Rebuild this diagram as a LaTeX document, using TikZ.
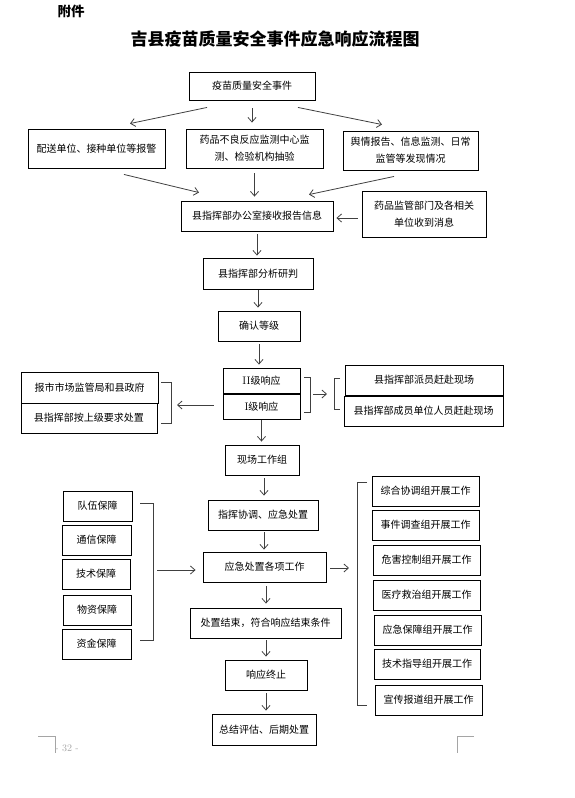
\documentclass[tikz,border=0pt]{standalone}
\usepackage{fontspec}
\newfontfamily\cjk{Noto Sans CJK SC}
\usepackage{tikz}
\usetikzlibrary{arrows.meta, calc}
\definecolor{linegray}{RGB}{64, 64, 64}
\definecolor{markgray}{RGB}{165, 165, 165}

\begin{document}
\begin{tikzpicture}[x=1pt, y=-1pt,
  flowbox/.style={draw=black, line width=0.9pt, inner sep=0pt, align=center, font=\cjk\fontsize{10}{17}\selectfont},
  flowarrow/.style={draw=linegray, line width=0.8pt, shorten <=3pt, shorten >=3pt, -{Straight Barb[length=4.5pt, width=8pt]}},
  bracketline/.style={draw=linegray, line width=0.8pt}]
  \useasboundingbox (0,0) rectangle (575,798);

  % Heading
  \node[font=\cjk\bfseries\fontsize{13.5}{14}\selectfont] (annex) at (71,11) {附件};
  \node[font=\cjk\bfseries\fontsize{17}{18}\selectfont] (title) at (275,39) {吉县疫苗质量安全事件应急响应流程图};

  % Reporting
  \node[flowbox, minimum width=126pt, minimum height=28pt] (event) at (252,86) {疫苗质量安全事件};
  \node[flowbox, minimum width=137pt, minimum height=39pt] (alarm) at (96.5,148.5) {配送单位、接种单位等报警};
  \node[flowbox, minimum width=137pt, minimum height=39pt] (monitor) at (254.5,148.5) {药品不良反应监测中心监\\测、检验机构抽验};
  \node[flowbox, minimum width=135pt, minimum height=39pt] (opinion) at (410.5,150.5) {舆情报告、信息监测、日常\\监管等发现情况};
  \node[flowbox, minimum width=152pt, minimum height=30pt] (office) at (257,216) {县指挥部办公室接收报告信息};
  \node[flowbox, minimum width=124pt, minimum height=46pt] (notice) at (424,214) {药品监管部门及各相关\\单位收到消息};

  \draw[flowarrow, shorten <=0pt, shorten >=0pt] ($(event.south)+(-45,7)$) -- ($(alarm.north)+(33.5,-5)$);
  \draw[flowarrow, shorten <=8pt, shorten >=6pt] (event.south) -- (event.south |- monitor.north);
  \draw[flowarrow, shorten <=0pt, shorten >=0pt] ($(event.south)+(46,7)$) -- ($(opinion.north)+(-28.5,-6)$);
  \draw[flowarrow, shorten <=0pt, shorten >=0pt] ($(alarm.south)+(27.5,6)$) -- ($(office.north)+(-58,-8)$);
  \draw[flowarrow, shorten <=5pt, shorten >=4pt] (monitor.south) -- (monitor.south |- office.north);
  \draw[flowarrow, shorten <=0pt, shorten >=0pt] ($(opinion.south)+(-16.5,6)$) -- ($(office.north)+(52,-6)$);
  \draw[flowarrow, shorten <=0pt, shorten >=0pt] ($(notice.west)+(-4,4)$) -- ($(office.east)+(3,2)$);

  % Judgement
  \node[flowbox, minimum width=110pt, minimum height=31pt] (analyse) at (258,273.5) {县指挥部分析研判};
  \node[flowbox, minimum width=82pt, minimum height=30pt] (grade) at (259,326) {确认等级};
  \node[flowbox, minimum width=77pt, minimum height=25pt] (lvtwo) at (261.5,380.5) {{\rmfamily\fontsize{11}{12}\selectfont II}级响应};
  \node[flowbox, minimum width=77pt, minimum height=25pt] (lvone) at (261.5,406.5) {{\rmfamily\fontsize{11}{12}\selectfont I}级响应};
  \node[flowbox, minimum width=158pt, minimum height=30pt] (dispatch) at (424,380) {县指挥部派员赶赴现场};
  \node[flowbox, minimum width=159pt, minimum height=30pt] (members) at (423.5,411) {县指挥部成员单位人员赶赴现场};
  \node[flowbox, minimum width=137pt, minimum height=31pt] (report) at (89.5,387.5) {报市市场监管局和县政府};
  \node[flowbox, minimum width=136pt, minimum height=30pt] (superior) at (89,418) {县指挥部按上级要求处置};

  \draw[flowarrow, shorten >=2pt] (office.south) -- (office.south |- analyse.north);
  \draw[flowarrow, shorten <=1pt] (analyse.south) -- (analyse.south |- grade.north);
  \draw[flowarrow] (grade.south) -- (grade.south |- lvtwo.north);

  \draw[bracketline] (304,377) -- (310,377) -- (310,412) -- (304,412);
  \draw[bracketline] (340,378) -- (334,378) -- (334,409) -- (340,409);
  \draw[bracketline] (161,382) -- (171,382) -- (171,423) -- (161,423);
  \coordinate (lvbr) at (313,394);
  \coordinate (sitebr) at (327,394);
  \coordinate (upbr) at (177,405);
  \draw[flowarrow, shorten <=0pt, shorten >=0pt] (lvbr) -- (sitebr);
  \draw[flowarrow, shorten <=0pt, shorten >=0pt] ($(lvone.west)+(-9,-1.5)$) -- (upbr);

  % Handling
  \node[flowbox, minimum width=74pt, minimum height=30pt] (scene) at (262,460) {现场工作组};
  \node[flowbox, minimum width=110pt, minimum height=30pt] (command) at (263,515) {指挥协调、应急处置};
  \node[flowbox, minimum width=123pt, minimum height=30pt] (tasks) at (264.5,567) {应急处置各项工作};
  \node[flowbox, minimum width=151pt, minimum height=30pt] (finish) at (265.5,623) {处置结束，符合响应结束条件};
  \node[flowbox, minimum width=82pt, minimum height=30pt] (stop) at (266,675) {响应终止};
  \node[flowbox, minimum width=104pt, minimum height=31pt] (summary) at (264,729.5) {总结评估、后期处置};

  \draw[flowarrow, shorten <=1pt] (lvone.south) -- (lvone.south |- scene.north);
  \draw[flowarrow, shorten >=4pt] ([xshift=2pt]scene.south) -- ([xshift=2pt]scene.south |- command.north);
  \draw[flowarrow, shorten <=2pt, shorten >=2pt] ([xshift=1pt]command.south) -- ([xshift=1pt]command.south |- tasks.north);
  \draw[flowarrow, shorten <=4pt, shorten >=4pt] ([xshift=1.5pt]tasks.south) -- ([xshift=1.5pt]tasks.south |- finish.north);
  \draw[flowarrow, shorten <=2pt] ([xshift=0.5pt]finish.south) -- ([xshift=0.5pt]finish.south |- stop.north);
  \draw[flowarrow] (stop.south) -- (stop.south |- summary.north);

  % Support
  \node[flowbox, minimum width=69pt, minimum height=30pt] (team) at (97.5,506) {队伍保障};
  \node[flowbox, minimum width=69pt, minimum height=30pt] (comms) at (96.5,540) {通信保障};
  \node[flowbox, minimum width=68pt, minimum height=30pt] (techsup) at (96,574) {技术保障};
  \node[flowbox, minimum width=68pt, minimum height=30pt] (goods) at (97,610) {物资保障};
  \node[flowbox, minimum width=69pt, minimum height=30pt] (funds) at (96.5,644) {资金保障};
  \draw[bracketline] (140,503) -- (153,503) -- (153,640) -- (140,640);
  \coordinate (supbr) at (157,570);
  \draw[flowarrow, shorten <=0pt, shorten >=0pt] (supbr) -- ($(tasks.west)+(-7,3)$);

  % Working groups
  \node[flowbox, minimum width=107pt, minimum height=30pt] (coord) at (425.5,491) {综合协调组开展工作};
  \node[flowbox, minimum width=107pt, minimum height=30pt] (inquiry) at (425.5,525) {事件调查组开展工作};
  \node[flowbox, minimum width=107pt, minimum height=30pt] (hazard) at (426.5,560) {危害控制组开展工作};
  \node[flowbox, minimum width=107pt, minimum height=30pt] (medical) at (426.5,595) {医疗救治组开展工作};
  \node[flowbox, minimum width=107pt, minimum height=30pt] (backup) at (427.5,630) {应急保障组开展工作};
  \node[flowbox, minimum width=106pt, minimum height=30pt] (guide) at (427,664) {技术指导组开展工作};
  \node[flowbox, minimum width=107pt, minimum height=30pt] (press) at (428.5,700) {宣传报道组开展工作};
  \draw[bracketline] (367,482) -- (357,482) -- (357,705) -- (367,705);
  \coordinate (groupbr) at (349,568);
  \draw[flowarrow, shorten <=0pt, shorten >=0pt] ($(tasks.east)+(4,1)$) -- (groupbr);

  % Page marks
  \draw[markgray, line width=0.6pt] (38,736) -- (55,736) -- (55,753);
  \draw[markgray, line width=0.6pt] (474,736) -- (457,736) -- (457,753);
  \node[text=markgray, font=\fontsize{10}{12}\selectfont] (pagenum) at (67,748) {- 32 -};
\end{tikzpicture}
\end{document}
